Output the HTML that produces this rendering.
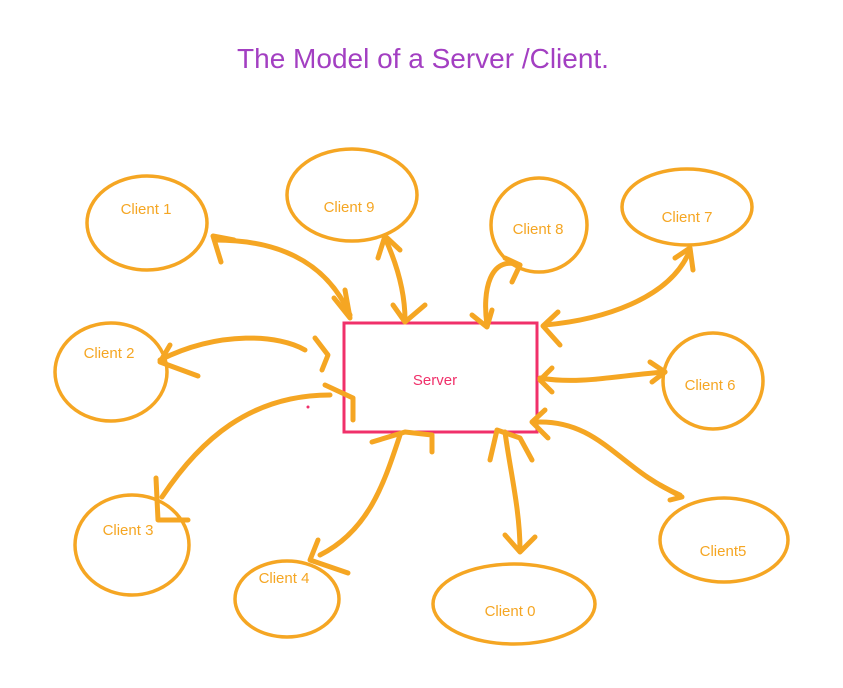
<!DOCTYPE html>
<html><head><meta charset="utf-8"><style>
html,body{margin:0;padding:0;background:#fff;}
svg{display:block;}
text{font-family:"Liberation Sans",sans-serif;}
</style></head><body>
<svg width="843" height="688" viewBox="0 0 843 688" xmlns="http://www.w3.org/2000/svg">
<rect width="843" height="688" fill="#fff"/>
<text x="423" y="68" font-size="28" fill="#a33fc2" text-anchor="middle">The Model of a Server /Client.</text>
<rect x="344" y="323" width="193" height="109" fill="none" stroke="#f0306a" stroke-width="3"/>
<text x="435" y="385" font-size="15" fill="#f0306a" text-anchor="middle">Server</text>
<g fill="none" stroke="#f5a623" stroke-width="3.5">
<ellipse cx="147" cy="223" rx="60" ry="47"/>
<ellipse cx="352" cy="195" rx="65" ry="46"/>
<ellipse cx="539" cy="225" rx="48" ry="47"/>
<ellipse cx="687" cy="207" rx="65" ry="38"/>
<ellipse cx="111" cy="372" rx="56" ry="49"/>
<ellipse cx="713" cy="381" rx="50" ry="48"/>
<ellipse cx="132" cy="545" rx="57" ry="50"/>
<ellipse cx="287" cy="599" rx="52" ry="38"/>
<ellipse cx="514" cy="604" rx="81" ry="40"/>
<ellipse cx="724" cy="540" rx="64" ry="42"/>
</g>
<g font-size="15" fill="#f5a623" text-anchor="middle">
<text x="146" y="214">Client 1</text>
<text x="349" y="212">Client 9</text>
<text x="538" y="234">Client 8</text>
<text x="687" y="222">Client 7</text>
<text x="109" y="358">Client 2</text>
<text x="710" y="390">Client 6</text>
<text x="128" y="535">Client 3</text>
<text x="284" y="583">Client 4</text>
<text x="510" y="616">Client 0</text>
<text x="723" y="556">Client5</text>
</g>
<g fill="none" stroke="#f5a623" stroke-width="5" stroke-linecap="round" stroke-linejoin="round">
<path d="M215,240 C290,240 330,270 350,315"/>
<path d="M221,262 L213,236 L234,240"/>
<path d="M334,298 L350,318 L345,290"/>
<path d="M385,238 C395,260 405,290 405,320"/>
<path d="M378,258 L385,236 L400,250"/>
<path d="M393,305 L405,322 L425,305"/>
<path d="M520,265 C490,255 482,290 487,325"/>
<path d="M505,258 L520,265 L512,282"/>
<path d="M472,315 L487,327 L492,310"/>
<path d="M690,250 C670,300 600,320 545,325"/>
<path d="M675,258 L690,248 L693,270"/>
<path d="M558,312 L543,326 L560,345"/>
<path d="M160,360 C220,330 280,335 305,350"/>
<path d="M170,345 L160,362 L198,376"/>
<path d="M315,338 L328,355 L322,370"/>
<path d="M540,378 C580,385 620,375 665,372"/>
<path d="M552,368 L540,380 L552,392"/>
<path d="M650,362 L665,372 L652,382"/>
<path d="M162,497 C200,440 250,395 330,395"/>
<path d="M156,478 L158,520 L188,520"/>
<path d="M325,385 L353,398 L353,420"/>
<path d="M400,435 C385,480 370,530 320,555"/>
<path d="M372,442 L405,432 L432,435 L432,452"/>
<path d="M318,540 L310,560 L348,573"/>
<path d="M505,432 C510,470 520,510 520,550"/>
<path d="M490,460 L497,430 L520,438 L532,460"/>
<path d="M505,535 L520,552 L535,537"/>
<path d="M537,422 C600,420 620,470 680,495"/>
<path d="M545,410 L532,422 L548,438"/>
<path d="M660,485 L682,497 L670,500"/>
</g>
<circle cx="308" cy="407" r="1.5" fill="#f0306a"/>
</svg>
</body></html>
